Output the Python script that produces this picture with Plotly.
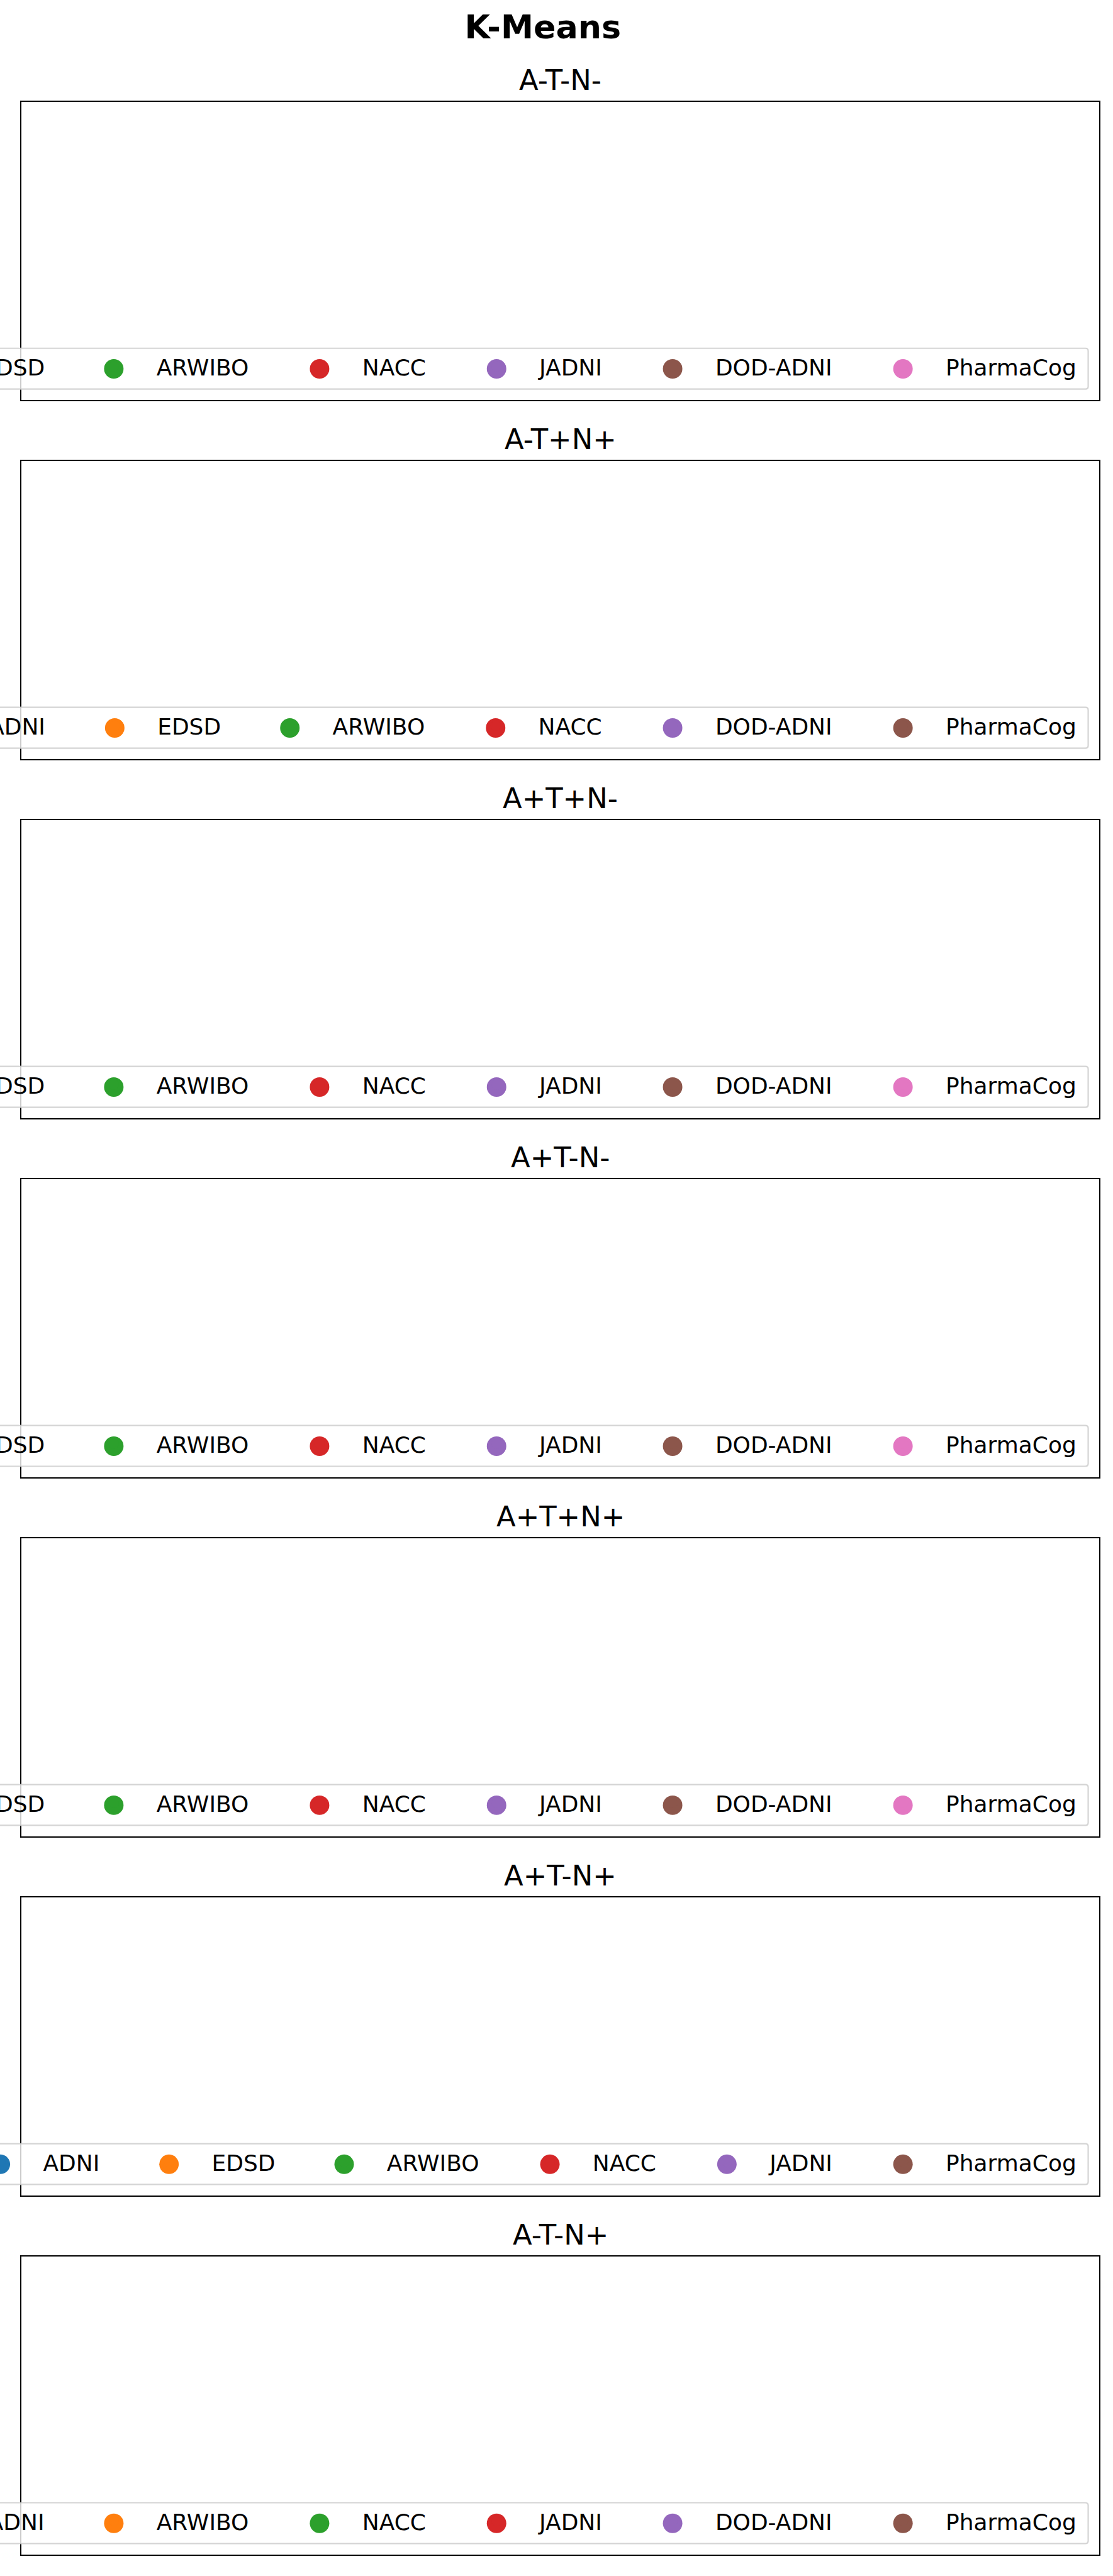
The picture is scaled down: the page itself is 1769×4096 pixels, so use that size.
import plotly.graph_objects as go

# ---------------- data ----------------
SUPTITLE = "K-Means"
SUBPLOT_TITLES = ["A-T-N-", "A-T+N+", "A+T+N-", "A+T-N-", "A+T+N+", "A+T-N+", "A-T-N+"]
DATASETS_1 = ["ADNI", "EDSD", "ARWIBO", "NACC", "JADNI", "DOD-ADNI", "PharmaCog"]
DATASETS_2 = ["ADNI", "EDSD", "ARWIBO", "NACC", "DOD-ADNI", "PharmaCog"]
DATASETS_3 = ["ADNI", "EDSD", "ARWIBO", "NACC", "JADNI", "DOD-ADNI", "PharmaCog"]
DATASETS_4 = ["ADNI", "EDSD", "ARWIBO", "NACC", "JADNI", "DOD-ADNI", "PharmaCog"]
DATASETS_5 = ["ADNI", "EDSD", "ARWIBO", "NACC", "JADNI", "DOD-ADNI", "PharmaCog"]
DATASETS_6 = ["ADNI", "EDSD", "ARWIBO", "NACC", "JADNI", "PharmaCog"]
DATASETS_7 = ["ADNI", "ARWIBO", "NACC", "JADNI", "DOD-ADNI", "PharmaCog"]
DATASETS = [DATASETS_1, DATASETS_2, DATASETS_3, DATASETS_4, DATASETS_5, DATASETS_6, DATASETS_7]
# the clusters shown in the panels are empty: no points to plot
POINTS_X = [[None] for _ in SUBPLOT_TITLES]
POINTS_Y = [[None] for _ in SUBPLOT_TITLES]

COLORS = ["#1f77b4", "#ff7f0e", "#2ca02c", "#d62728", "#9467bd",
          "#8c564b", "#e377c2", "#7f7f7f", "#bcbd22", "#17becf"]

# ---------------- geometry (reference pixels) ----------------
REF_W, REF_H = 2399, 5555
W, H = 1769, 4096
S = W / REF_W
FONT = "DejaVu Sans"

AX_LEFT, AX_RIGHT = 44.8, 2370.8
AX_TOP0, AX_HEIGHT, AX_STEP = 218.0, 646.0, 774.33
LW = 2.2                      # output px
HALF_LW_REF = (LW / 2) / S

TITLE_FS = 70.9 * S
SUB_FS = 60.8 * S
LEG_FS = 48.8 * S

# legend layout (matplotlib-like, anchored lower right)
LAST_MARKER_X = 1946.3
ENTRY_STEP = 243.5
TEXT_W = {"ADNI": 120, "EDSD": 134, "ARWIBO": 200, "NACC": 138,
          "JADNI": 136, "DOD-ADNI": 253, "PharmaCog": 283}
MARKER_TO_TEXT = 92.0 * S     # output px
ITEMWIDTH = 2 * MARKER_TO_TEXT - 10
MARKER_D = 42.0 * S
FRAME_RIGHT = 2345.5
FRAME_TOP_OFF = 113.0
FRAME_BOT_OFF = 25.0
MARKER_Y_OFF = 68.5
TEXT_SHIFT_REF = 3.6 / S


def px(x):
    return x / REF_W


def py(y):
    return 1 - y / REF_H


fig = go.Figure()
shapes = []
annotations = []
layout_extra = {}
legend_count = 0

for i, (title, names) in enumerate(zip(SUBPLOT_TITLES, DATASETS)):
    n = i + 1
    top = AX_TOP0 + AX_STEP * i
    bottom = top + AX_HEIGHT
    xa = "xaxis" if n == 1 else f"xaxis{n}"
    ya = "yaxis" if n == 1 else f"yaxis{n}"
    axis_style = dict(showline=True, mirror=True, linecolor="black", linewidth=LW,
                      showgrid=False, zeroline=False, showticklabels=False,
                      ticks="", range=[0, 1], fixedrange=True)
    layout_extra[xa] = dict(domain=[px(AX_LEFT + HALF_LW_REF), px(AX_RIGHT - HALF_LW_REF)],
                            anchor=f"y{n}" if n > 1 else "y", **axis_style)
    layout_extra[ya] = dict(domain=[py(bottom - HALF_LW_REF), py(top + HALF_LW_REF)],
                            anchor=f"x{n}" if n > 1 else "x", **axis_style)

    # subplot title
    annotations.append(dict(
        text=title, xref="paper", yref="paper",
        x=px((AX_LEFT + AX_RIGHT) / 2), y=py(top - 23.7 - 0.346 * 60.8),
        xanchor="center", yanchor="middle", showarrow=False,
        font=dict(family=FONT, size=SUB_FS, color="black")))

    # legend frame
    fr_top = bottom - FRAME_TOP_OFF
    fr_bot = bottom - FRAME_BOT_OFF
    r = 6.0
    xl = px(-80)
    xr = px(FRAME_RIGHT)
    rx = px(r)
    ry = r / REF_H
    t, b = py(fr_top), py(fr_bot)
    path = (f"M {xl},{t} L {xr - rx},{t} Q {xr},{t} {xr},{t - ry} "
            f"L {xr},{b + ry} Q {xr},{b} {xr - rx},{b} L {xl},{b} Z")
    shapes.append(dict(type="path", path=path, xref="paper", yref="paper",
                       fillcolor="rgba(255,255,255,0.8)",
                       line=dict(color="rgba(204,204,204,0.85)", width=2.2),
                       layer="above"))

    # marker positions, right to left
    mx = [0.0] * len(names)
    mx[-1] = LAST_MARKER_X
    for j in range(len(names) - 2, -1, -1):
        mx[j] = mx[j + 1] - ENTRY_STEP - TEXT_W[names[j]]
    my = bottom - MARKER_Y_OFF

    for j, name in enumerate(names):
        color = COLORS[j % len(COLORS)]
        legend_count += 1
        lname = "legend" if legend_count == 1 else f"legend{legend_count}"
        fig.add_trace(go.Scatter(
            x=POINTS_X[i], y=POINTS_Y[i], mode="markers", name=name,
            marker=dict(color=color, size=16),
            xaxis=f"x{n}" if n > 1 else "x", yaxis=f"y{n}" if n > 1 else "y",
            legend=lname, showlegend=True, hoverinfo="skip"))
        cx_out = mx[j] * S
        layout_extra[lname] = dict(
            x=(cx_out - MARKER_TO_TEXT) / W, xanchor="left",
            y=py(my - TEXT_SHIFT_REF), yanchor="middle",
            orientation="v", bgcolor="rgba(0,0,0,0)", borderwidth=0,
            itemwidth=ITEMWIDTH, itemclick=False, itemdoubleclick=False,
            font=dict(family=FONT, size=LEG_FS, color="black"))
        # enlarged legend dot (matplotlib marker size)
        rr = MARKER_D / 2 / S
        shapes.append(dict(type="circle", xref="paper", yref="paper",
                           x0=px(mx[j] - rr), x1=px(mx[j] + rr),
                           y0=py(my + rr), y1=py(my - rr),
                           fillcolor=color, line=dict(width=0), layer="above"))

fig.update_layout(
    width=W, height=H,
    margin=dict(l=0, r=0, t=0, b=0, pad=0, autoexpand=False),
    paper_bgcolor="white", plot_bgcolor="white",
    font=dict(family=FONT, color="black"),
    title=dict(text=SUPTITLE, x=px(1170), xref="paper", xanchor="center",
               y=py(83.3 - 0.35 * 70.9), yref="container", yanchor="middle",
               font=dict(family=FONT, size=TITLE_FS, color="black", weight="bold")),
    shapes=shapes, annotations=annotations,
    **layout_extra,
)

fig.write_html("out.html")
